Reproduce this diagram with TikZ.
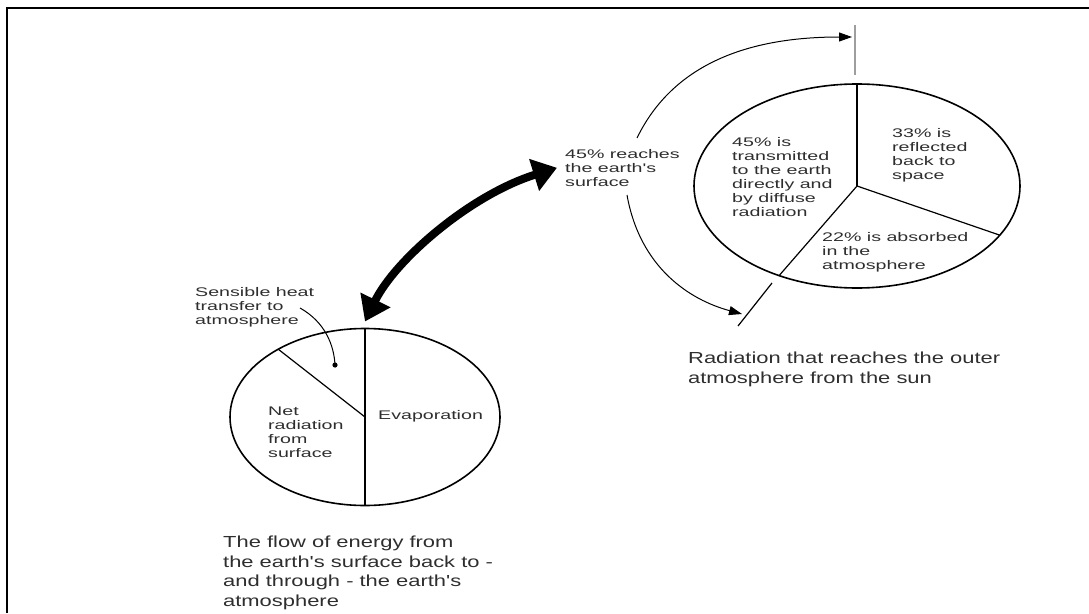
\documentclass[tikz,border=0pt]{standalone}
\usepackage{fontspec}
\usetikzlibrary{arrows.meta,shapes.geometric}
\newfontfamily\lblfont[FakeStretch=1.57]{Liberation Sans}
\newfontfamily\capfont[FakeStretch=1.37]{Liberation Sans}
\definecolor{txtgray}{gray}{0.18}
\definecolor{tickgray}{gray}{0.62}
\tikzset{
  lbl/.style={anchor=north west, inner sep=0pt, align=left, text=txtgray,
    font=\lblfont\fontsize{12.5}{14}\selectfont},
  caption/.style={anchor=north west, inner sep=0pt, align=left, text=txtgray,
    font=\capfont\fontsize{16}{19.5}\selectfont},
  pie/.style={ellipse, draw, line width=1.6pt, outer sep=0pt, inner sep=0pt},
  cut/.style={line width=1.2pt},
  flow/.style={line width=1pt, -{Triangle[length=13pt,width=9pt]}},
  exchange/.style={line width=8pt, {Triangle[length=24pt,width=32pt]}-{Triangle[length=24pt,width=32pt]}}
}
\begin{document}
\begin{tikzpicture}[x=1pt,y=-1pt]
\useasboundingbox (0,0) rectangle (1089,613);
\draw[line width=2.2pt] (7,613) -- (7,8) -- (1089,8);

\node[pie, minimum width=326pt, minimum height=204pt] (sun) at (857,186) {};
\draw[cut] (sun.center) -- (sun.north);
\draw[cut] (sun.center) -- (sun.-19.3);
\draw[cut] (sun.center) -- (sun.229.2);
\draw[tickgray, line width=2.6pt] (855,25) -- (855,75);
\draw[cut] (772,283) -- (738,326);

\node[lbl] (trans) at (732,137) {45\% is\\transmitted\\to the earth\\directly and\\by diffuse\\radiation};
\node[lbl] (refl) at (892,128) {33\% is\\reflected\\back to\\space};
\node[lbl] (absb) at (822,232) {22\% is absorbed\\in the\\atmosphere};
\node[lbl] (reach) at (565,149) {45\% reaches\\the earth's\\surface};

\coordinate (upA) at (637,138);
\coordinate (upB) at (852,37);
\coordinate (dnA) at (627,195);
\coordinate (dnB) at (742,314);
\draw[flow] (upA) .. controls (675,60) and (755,37) .. (upB);
\draw[flow] (dnA) .. controls (640,268) and (690,300) .. (dnB);

\node[caption] (outer) at (688,352) {Radiation that reaches the outer\\atmosphere from the sun};

\node[pie, minimum width=270pt, minimum height=177pt] (earth) at (365,417) {};
\draw[cut] (earth.north) -- (earth.south);
\draw[cut] (earth.142.6) -- (earth.center);

\draw[exchange] ([yshift=7pt]earth.north) .. controls (395,260) and (470,195) .. ([xshift=-8pt]reach.west);

\node[lbl] (sens) at (195,287) {Sensible heat\\transfer to\\atmosphere};
\coordinate (dot) at (335,365);
\fill (dot) circle (2.6pt);
\draw[line width=1pt] (300,308) .. controls (325,322) and (334,345) .. (dot);

\node[lbl] (net) at (268,407) {Net\\radiation\\from\\surface};
\node[lbl] (evap) at (378,410) {Evaporation};

\node[caption] (back) at (223,536) {The flow of energy from\\the earth's surface back to -\\and through - the earth's\\atmosphere};
\end{tikzpicture}
\end{document}
